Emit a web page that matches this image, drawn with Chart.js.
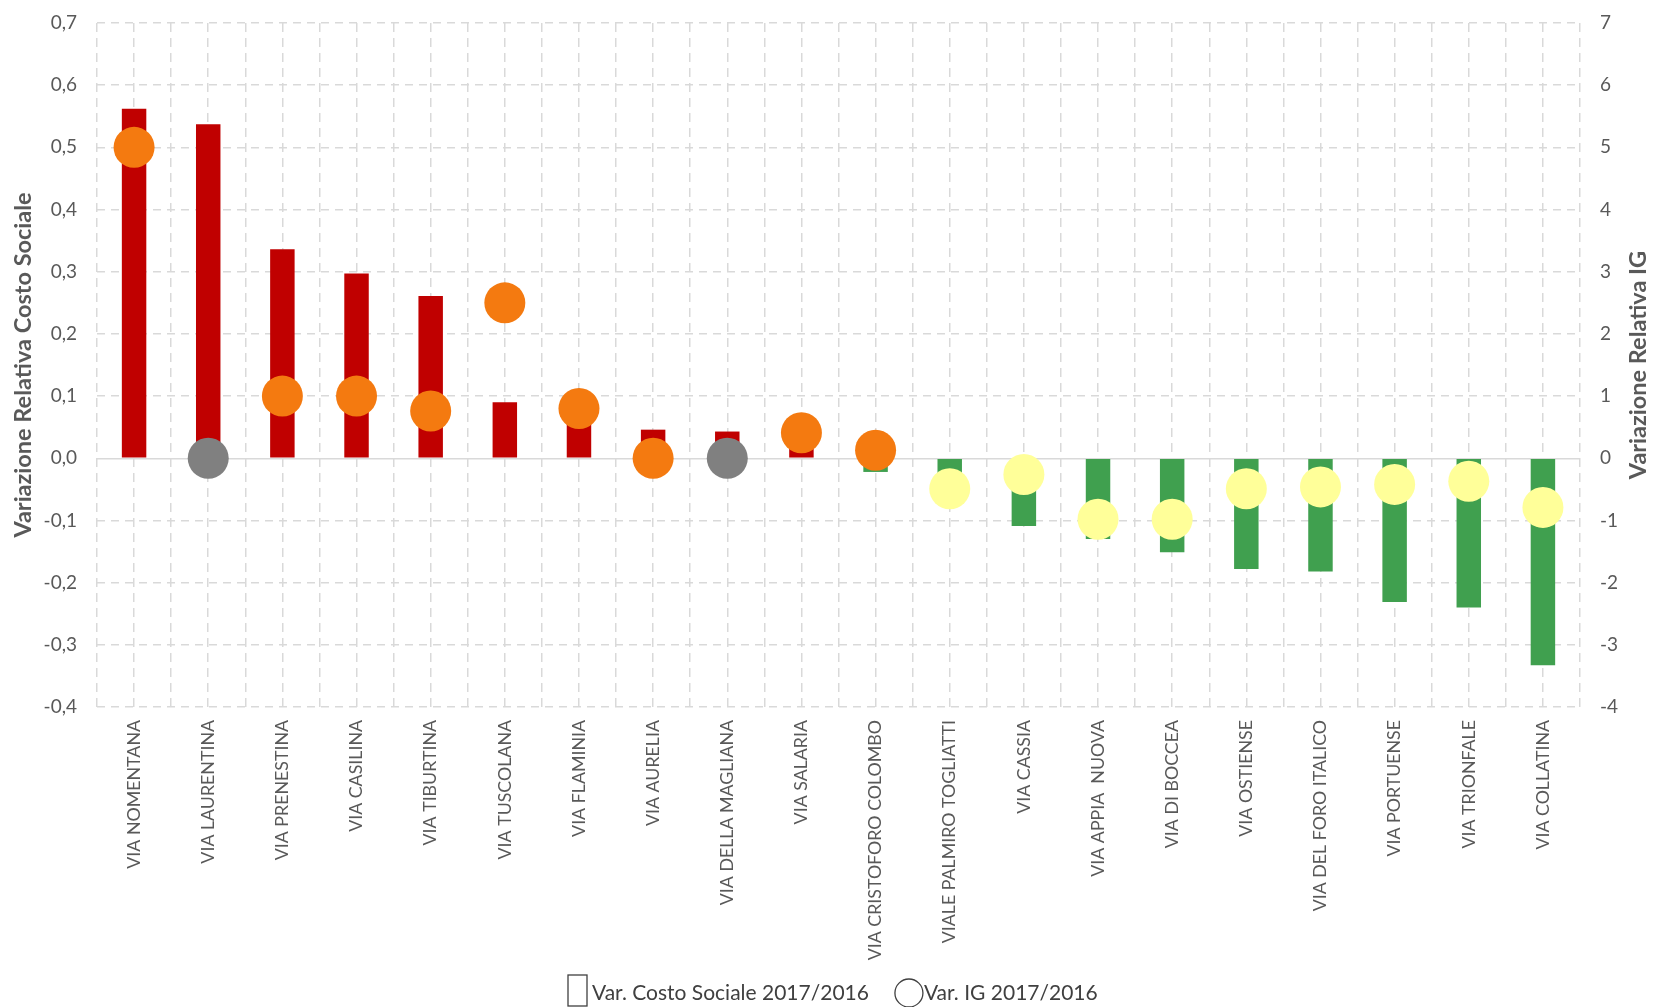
<!DOCTYPE html>
<html lang="it">
<head>
<meta charset="utf-8">
<title>Variazione Costo Sociale e IG 2017/2016</title>
<script src="https://cdn.jsdelivr.net/npm/chart.js@4.4.1/dist/chart.umd.min.js"></script>
<style>
  html, body { margin: 0; padding: 0; background: #fff; }
  #wrap { width: 1654px; height: 1007px; position: relative; }
</style>
</head>
<body>
<div id="wrap"><canvas id="varChart"></canvas></div>
<script>
// strade ordinate per variazione del costo sociale
const strade = [
  'VIA NOMENTANA', 'VIA LAURENTINA', 'VIA PRENESTINA', 'VIA CASILINA', 'VIA TIBURTINA',
  'VIA TUSCOLANA', 'VIA FLAMINIA', 'VIA AURELIA', 'VIA DELLA MAGLIANA', 'VIA SALARIA',
  'VIA CRISTOFORO COLOMBO', 'VIALE PALMIRO TOGLIATTI', 'VIA CASSIA', 'VIA APPIA  NUOVA', 'VIA DI BOCCEA',
  'VIA OSTIENSE', 'VIA DEL FORO ITALICO', 'VIA PORTUENSE', 'VIA TRIONFALE', 'VIA COLLATINA'
];
const varCostoSociale = [
  0.562, 0.537, 0.336, 0.297, 0.261,
  0.090, 0.070, 0.046, 0.043, 0.030,
  -0.022, -0.060, -0.109, -0.130, -0.151,
  -0.178, -0.182, -0.231, -0.240, -0.333
];
const varIG = [
  5.0, 0.0, 1.0, 1.0, 0.76,
  2.5, 0.8, 0.0, 0.0, 0.41,
  0.13, -0.49, -0.26, -0.98, -0.98,
  -0.49, -0.46, -0.42, -0.37, -0.79
];
const coloriIG = [
  '#F47A10', '#808080', '#F47A10', '#F47A10', '#F47A10',
  '#F47A10', '#F47A10', '#F47A10', '#808080', '#F47A10',
  '#F47A10', '#FFFF99', '#FFFF99', '#FFFF99', '#FFFF99',
  '#FFFF99', '#FFFF99', '#FFFF99', '#FFFF99', '#FFFF99'
];
const asseCosto = { min: -0.4, max: 0.7, step: 0.1 };
const asseIG = { min: -4, max: 7, step: 1 };
const etichettaCosto = 'Var. Costo Sociale 2017/2016';
const etichettaIG = 'Var. IG 2017/2016';
const titoloCosto = 'Variazione Relativa Costo Sociale';
const titoloIG = 'Variazione Relativa IG';

const GRIGIO_GRID = '#D9D9D9';
const GRIGIO_TESTO = '#595959';
Chart.defaults.font.family = 'Lato, "Open Sans", sans-serif';

// titoli degli assi (entrambi letti dal basso verso l'alto) e legenda in fondo
const decorazioni = {
  id: 'decorazioni',
  afterDraw(chart) {
    const { ctx, chartArea } = chart;
    const midY = (chartArea.top + chartArea.bottom) / 2;
    ctx.save();
    ctx.fillStyle = GRIGIO_TESTO;
    ctx.font = 'bold 23.5px Lato, sans-serif';
    ctx.textAlign = 'center';
    ctx.textBaseline = 'middle';
    [[23, titoloCosto], [1638, titoloIG]].forEach(([x, t]) => {
      ctx.save();
      ctx.translate(x, midY);
      ctx.rotate(-Math.PI / 2);
      ctx.fillText(t, 0, 0);
      ctx.restore();
    });

    // legenda
    const yMid = 993;
    ctx.font = '21px Lato, sans-serif';
    ctx.textAlign = 'left';
    ctx.fillStyle = '#404040';
    ctx.strokeStyle = '#404040';
    ctx.lineWidth = 1.3;
    let x = 568;
    ctx.strokeRect(x, 975, 19, 31);
    x += 24;
    ctx.fillText(etichettaCosto, x, yMid);
    x += ctx.measureText(etichettaCosto).width + 25;
    ctx.beginPath();
    ctx.arc(x + 15, yMid, 14, 0, Math.PI * 2);
    ctx.stroke();
    x += 30;
    ctx.fillText(etichettaIG, x, yMid);
    ctx.restore();
  }
};

// le etichette dell'asse y non devono spostare il bordo superiore dell'area
const senzaPaddingVerticale = scale => {
  scale.paddingTop = 0;
  scale.paddingBottom = 0;
};

const ctx = document.getElementById('varChart').getContext('2d');
const varChart = new Chart(ctx, {
  data: {
    labels: strade,
    datasets: [
      {
        type: 'line',
        label: etichettaIG,
        data: varIG,
        yAxisID: 'y1',
        showLine: false,
        pointStyle: 'circle',
        pointRadius: 20.5,
        pointHoverRadius: 20.5,
        pointBorderWidth: 0,
        pointBackgroundColor: coloriIG,
        order: 1
      },
      {
        type: 'bar',
        label: etichettaCosto,
        data: varCostoSociale,
        yAxisID: 'y',
        backgroundColor: varCostoSociale.map(v => v >= 0 ? '#C00000' : '#40A04F'),
        barPercentage: 0.33,
        categoryPercentage: 1.0,
        order: 2
      }
    ]
  },
  options: {
    responsive: true,
    maintainAspectRatio: false,
    animation: false,
    layout: { padding: { top: 23, left: 0, right: 0, bottom: 0 } },
    plugins: {
      legend: { display: false },
      tooltip: { enabled: false }
    },
    scales: {
      x: {
        type: 'category',
        position: 'bottom',
        offset: true,
        grid: { offset: true, color: GRIGIO_GRID, lineWidth: 1.5, drawTicks: false },
        border: { display: false, dash: [9, 6] },
        ticks: {
          autoSkip: false,
          minRotation: 90,
          maxRotation: 90,
          padding: 13,
          color: GRIGIO_TESTO,
          font: { size: 17.8 }
        },
        afterFit: scale => { scale.height = 300; }
      },
      // linee verticali al centro di ogni categoria
      xCentri: {
        type: 'category',
        position: 'bottom',
        offset: true,
        grid: { offset: false, color: GRIGIO_GRID, lineWidth: 1.5, drawTicks: false },
        border: { display: false, dash: [9, 6] },
        ticks: { display: false },
        afterFit: scale => { scale.height = 0; }
      },
      y: {
        position: 'left',
        min: asseCosto.min,
        max: asseCosto.max,
        grid: {
          color: GRIGIO_GRID,
          lineWidth: 1.5,
          drawTicks: false
        },
        border: {
          display: false,
          dash: c => (c.tick && Math.abs(c.tick.value) < 1e-9) ? [] : [8, 6]
        },
        ticks: {
          stepSize: asseCosto.step,
          padding: 20,
          color: GRIGIO_TESTO,
          font: { size: 19 },
          callback: v => v.toFixed(1).replace('.', ',')
        },
        afterFit: scale => { scale.width = 97; senzaPaddingVerticale(scale); }
      },
      y1: {
        position: 'right',
        min: asseIG.min,
        max: asseIG.max,
        grid: { display: false, drawTicks: false },
        border: { display: false },
        ticks: {
          stepSize: asseIG.step,
          padding: 20,
          color: GRIGIO_TESTO,
          font: { size: 19 },
          callback: v => String(Math.round(v))
        },
        afterFit: scale => { scale.width = 74; senzaPaddingVerticale(scale); }
      }
    }
  },
  plugins: [decorazioni]
});
</script>
</body>
</html>
